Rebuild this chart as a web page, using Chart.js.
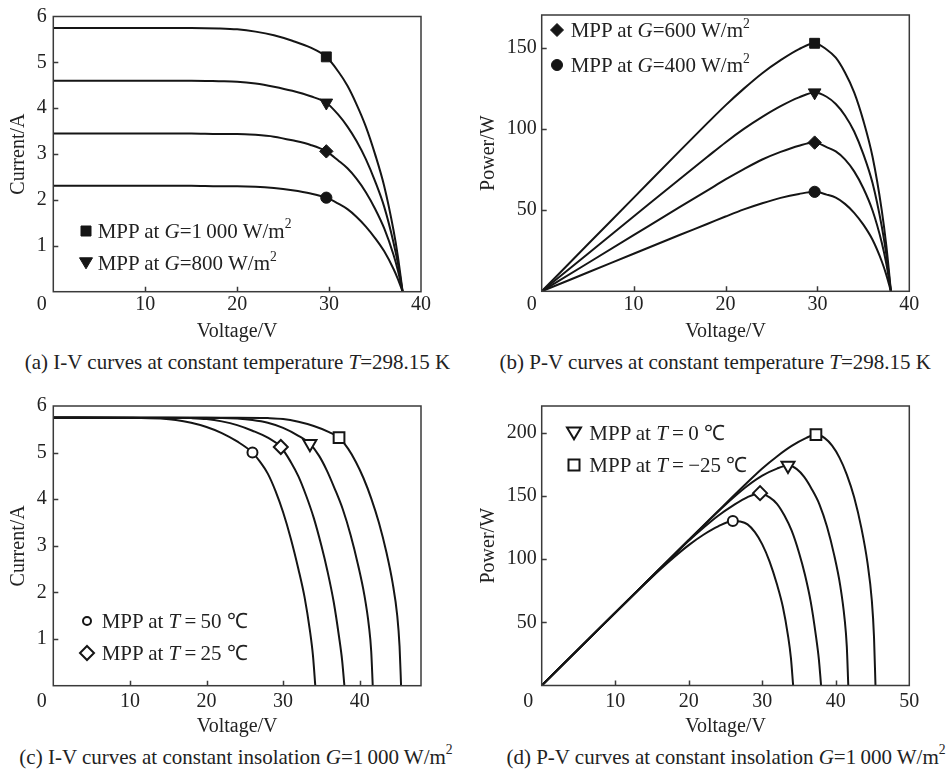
<!DOCTYPE html>
<html><head><meta charset="utf-8">
<script src="https://cdn.jsdelivr.net/npm/chart.js@4.4.1/dist/chart.umd.min.js"></script>
<style>
body{margin:0;background:#fff;width:950px;height:769px;position:relative;overflow:hidden;font-family:"Liberation Serif","Times New Roman",serif;color:#222}
canvas{position:absolute}
.cap{position:absolute;font-size:21px;line-height:24px;white-space:nowrap;transform:translateX(-50%)}
.leg{position:absolute;font-size:21px;line-height:24px;white-space:nowrap}
.mk{position:absolute;overflow:visible}
sup{font-size:0.65em;line-height:0;position:relative;top:-0.1em;vertical-align:super}
</style></head><body>
<canvas id="ca" width="475" height="345" style="left:0;top:0"></canvas>
<canvas id="cb" width="475" height="345" style="left:475px;top:0"></canvas>
<canvas id="cc" width="475" height="360" style="left:0;top:380px"></canvas>
<canvas id="cd" width="475" height="360" style="left:475px;top:380px"></canvas>
<div class="cap" style="left:237.5px;top:349.7px">(a) I-V curves at constant temperature <i>T</i>=298.15 K</div>
<div class="cap" style="left:715.3px;top:349.7px">(b) P-V curves at constant temperature <i>T</i>=298.15 K</div>
<div class="cap" style="left:236px;top:744.7px">(c) I-V curves at constant insolation <i>G</i>=1&#8201;000 W/m<sup>2</sup></div>
<div class="cap" style="left:726px;top:744.7px">(d) P-V curves at constant insolation <i>G</i>=1&#8201;000 W/m<sup>2</sup></div>
<script>
// ---------- data ----------
// (a)/(b) constant temperature, irradiance G = 1000, 800, 600, 400 W/m2
const vAB = [0, 5, 10, 15, 18, 20, 22, 24, 26, 28, 29.7, 31, 32, 33, 34, 35, 36, 37, 37.5, 38];
const iA1000 = [5.75, 5.75, 5.75, 5.75, 5.74, 5.72, 5.67, 5.59, 5.47, 5.32, 5.12, 4.80, 4.49, 4.08, 3.60, 3.00, 2.30, 1.35, 0.75, 0];
const iA800  = [4.60, 4.60, 4.60, 4.60, 4.59, 4.58, 4.54, 4.47, 4.38, 4.26, 4.12, 3.86, 3.60, 3.28, 2.89, 2.41, 1.85, 1.08, 0.60, 0];
const iA600  = [3.45, 3.45, 3.45, 3.45, 3.44, 3.44, 3.42, 3.38, 3.30, 3.20, 3.06, 2.86, 2.69, 2.46, 2.17, 1.81, 1.38, 0.81, 0.45, 0];
const iA400  = [2.31, 2.31, 2.31, 2.31, 2.30, 2.30, 2.29, 2.26, 2.21, 2.14, 2.05, 1.92, 1.80, 1.63, 1.42, 1.17, 0.88, 0.50, 0.27, 0];
const pB1000 = [0, 28.75, 57.5, 86.25, 103.3, 114.4, 124.7, 134.2, 142.2, 149.0, 152.6, 148.8, 143.7, 134.6, 122.4, 105.0, 82.8, 50.0, 28.1, 0];
const pB800  = [0, 23.0, 46.0, 69.0, 82.6, 91.6, 99.9, 107.3, 113.9, 119.3, 122.3, 119.7, 115.2, 108.2, 98.3, 84.4, 66.6, 40.0, 22.5, 0];
const pB600  = [0, 17.25, 34.5, 51.75, 61.9, 68.8, 75.2, 81.1, 85.8, 89.6, 91.5, 88.7, 86.1, 81.2, 73.8, 63.4, 49.7, 30.0, 16.9, 0];
const pB400  = [0, 11.55, 23.1, 34.65, 41.4, 46.0, 50.4, 54.2, 57.5, 59.9, 61.2, 59.5, 57.6, 53.8, 48.3, 41.0, 31.7, 18.5, 10.1, 0];
const mppVA = [29.7, 29.7, 29.7, 29.7];
const mppIA = [5.12, 4.12, 3.06, 2.05];
const mppPB = [152.6, 122.3, 91.5, 61.2];

// (c)/(d) constant insolation, T = 50, 25, 0, -25 C
const vC50  = [0, 10, 14, 16, 18, 20, 22, 24, 26, 27, 28, 29, 30, 31, 32, 32.8, 33.5, 33.9, 34.2];
const iC50  = [5.76, 5.75, 5.73, 5.70, 5.64, 5.55, 5.42, 5.24, 5.00, 4.80, 4.55, 4.18, 3.72, 3.16, 2.50, 1.90, 1.18, 0.64, 0];
const pD50  = [0, 57.5, 80.2, 91.2, 101.5, 111.0, 119.2, 125.8, 130.0, 129.6, 127.4, 121.2, 111.6, 98.0, 80.0, 62.3, 39.5, 21.7, 0];
const vC25  = [0, 15, 18, 20, 22, 24, 26, 28, 29.7, 31, 32, 33, 34, 35, 35.8, 36.6, 37.3, 37.7, 38];
const iC25  = [5.75, 5.75, 5.74, 5.72, 5.67, 5.59, 5.47, 5.32, 5.12, 4.80, 4.49, 4.08, 3.60, 3.00, 2.45, 1.80, 1.05, 0.55, 0];
const pD25  = [0, 86.25, 103.3, 114.4, 124.7, 134.2, 142.2, 149.0, 152.1, 148.8, 143.7, 134.6, 122.4, 105.0, 87.7, 65.9, 39.2, 20.7, 0];
const vC0   = [0, 20, 24, 26, 28, 30, 32, 33.5, 34.7, 35.7, 36.7, 37.8, 38.8, 39.8, 40.6, 41.2, 41.5, 41.7];
const iC0   = [5.75, 5.75, 5.73, 5.70, 5.64, 5.53, 5.36, 5.19, 4.93, 4.62, 4.24, 3.78, 3.24, 2.58, 1.95, 1.28, 0.74, 0];
const pD0   = [0, 115, 137.5, 148.2, 157.9, 165.9, 171.5, 173.9, 171.1, 164.9, 155.6, 142.9, 125.7, 102.7, 79.2, 52.7, 30.7, 0];
const vCm25 = [0, 24, 28, 30, 32, 34, 36, 37.3, 38.5, 39.5, 40.5, 41.5, 42.5, 43.5, 44.3, 44.9, 45.2, 45.4];
const iCm25 = [5.75, 5.75, 5.74, 5.72, 5.66, 5.57, 5.44, 5.32, 5.08, 4.80, 4.45, 4.02, 3.50, 2.85, 2.20, 1.50, 0.85, 0];
const pDm25 = [0, 138, 160.7, 171.6, 181.1, 189.4, 195.8, 198.4, 195.6, 189.6, 180.2, 166.8, 148.8, 124.0, 97.5, 67.4, 38.4, 0];
const mppVC = [26.0, 29.7, 33.5, 37.3];
const mppIC = [5.00, 5.12, 5.19, 5.32];
const mppPD = [130.0, 152.1, 173.9, 198.4];

// axis titles
const xTitle = 'Voltage/V';
const yTitles = ['Current/A', 'Power/W', 'Current/A', 'Power/W'];

// ---------- rendering ----------
Chart.defaults.font.family = '"Liberation Serif","Times New Roman",serif';
Chart.defaults.color = '#222';
const INK = '#151515';
const pts = (xs, ys) => xs.map((x, i) => ({x, y: ys[i]}));

const frame = {
  id: 'frame',
  afterDraw(chart, args, o) {
    const {ctx, chartArea: a, scales: {x, y}} = chart;
    ctx.save();
    ctx.strokeStyle = '#3a3a3a';
    ctx.lineWidth = 1.5;
    ctx.beginPath();
    x.ticks.forEach(t => {
      if (t.value > x.min && t.value < x.max) {
        const px = Math.round(x.getPixelForValue(t.value)) + 0.5;
        ctx.moveTo(px, a.bottom); ctx.lineTo(px, a.bottom - 5);
      }
    });
    y.ticks.forEach(t => {
      if (t.value > y.min && t.value < y.max) {
        const py = Math.round(y.getPixelForValue(t.value)) + 0.5;
        ctx.moveTo(a.left, py); ctx.lineTo(a.left + 5, py);
      }
    });
    ctx.stroke();
    ctx.strokeRect(a.left, a.top, a.right - a.left, a.bottom - a.top);
    ctx.fillStyle = '#222';
    ctx.font = '20px "Liberation Serif"';
    ctx.textAlign = 'center';
    ctx.textBaseline = 'middle';
    ctx.fillText('0', a.left + o.zdx, a.bottom + o.zdy);
    ctx.restore();
  }
};

function make(id, c) {
  const curves = c.curves.map(([xs, ys]) => ({
    data: pts(xs, ys), borderColor: INK, borderWidth: 2, pointRadius: 0,
    cubicInterpolationMode: 'monotone', fill: false, order: 2
  }));
  const mpp = {
    data: pts(c.mppX, c.mppY), showLine: false, order: 0,
    pointStyle: c.style, pointRotation: c.rot, pointRadius: c.rad,
    pointBackgroundColor: c.open ? '#fff' : INK, pointBorderColor: INK,
    pointBorderWidth: c.open ? 2 : 1
  };
  new Chart(document.getElementById(id), {
    type: 'line',
    data: {datasets: [mpp, ...curves]},
    options: {
      responsive: false, animation: false, devicePixelRatio: 1,
      layout: {padding: {left: 0, right: c.pr, top: c.pt, bottom: 0}},
      plugins: {legend: {display: false}, tooltip: {enabled: false}, frame: {zdx: c.zdx, zdy: c.zdy}},
      scales: {
        x: {
          type: 'linear', min: 0, max: c.xmax,
          grid: {display: false, drawTicks: false}, border: {display: false},
          ticks: {stepSize: 10, includeBounds: false, padding: c.xpad, maxRotation: 0,
            font: {size: 20, lineHeight: 1}, callback: v => v === 0 ? '' : v},
          title: {display: true, text: xTitle, font: {size: 20, lineHeight: 1.2}, padding: {top: 0, bottom: 1.3}},
          afterFit: s => { s.height = c.xh; }
        },
        y: {
          type: 'linear', min: 0, max: c.ymax,
          grid: {display: false, drawTicks: false}, border: {display: false},
          ticks: {stepSize: c.ystep, includeBounds: false, padding: c.ypad,
            font: {size: 20, lineHeight: 1}, callback: v => v === 0 ? '' : v},
          title: {display: true, text: c.ytitle, font: {size: 20, lineHeight: 1.2}, padding: {top: c.ytp, bottom: 0}},
          afterFit: s => { s.width = c.yw; }
        }
      }
    },
    plugins: [frame]
  });
}

make('ca', {curves: [[vAB, iA1000], [vAB, iA800], [vAB, iA600], [vAB, iA400]],
  mppX: mppVA, mppY: mppIA, style: ['rect', 'triangle', 'rectRot', 'circle'], rot: [0, 180, 0, 0], rad: [7, 7.3, 6.7, 5.6], open: false,
  pr: 54, pt: 12, xh: 53.3, yw: 53.3, xmax: 40, ymax: 6, ystep: 1, ytitle: yTitles[0], ytp: 6.3, xpad: 3.3, ypad: 6.5, zdx: -11.6, zdy: 13.3});
make('cb', {curves: [[vAB, pB1000], [vAB, pB800], [vAB, pB600], [vAB, pB400]],
  mppX: mppVA, mppY: mppPB, style: ['rect', 'triangle', 'rectRot', 'circle'], rot: [0, 180, 0, 0], rad: [7, 7.3, 6.7, 5.6], open: false,
  pr: 40.7, pt: 12, xh: 53.7, yw: 66.7, xmax: 40, ymax: 170, ystep: 50, ytitle: yTitles[1], ytp: 1.3, xpad: 3.3, ypad: 5, zdx: -10, zdy: 13.7});
make('cc', {curves: [[vC50, iC50], [vC25, iC25], [vC0, iC0], [vCm25, iCm25]],
  mppX: mppVC, mppY: mppIC, style: ['circle', 'rectRot', 'triangle', 'rect'], rot: [0, 0, 180, 0], rad: [5, 7, 7.5, 7.6], open: true,
  pr: 54, pt: 26, xh: 54.3, yw: 53.3, xmax: 48, ymax: 6, ystep: 1, ytitle: yTitles[2], ytp: 6.3, xpad: 6, ypad: 6.5, zdx: -11.6, zdy: 16});
make('cd', {curves: [[vC50, pD50], [vC25, pD25], [vC0, pD0], [vCm25, pDm25]],
  mppX: mppVC, mppY: mppPD, style: ['circle', 'rectRot', 'triangle', 'rect'], rot: [0, 0, 180, 0], rad: [5, 7, 7.5, 7.6], open: true,
  pr: 40.7, pt: 26, xh: 54.5, yw: 66.7, xmax: 50, ymax: 221, ystep: 50, ytitle: yTitles[3], ytp: 1.3, xpad: 6, ypad: 5, zdx: -13.4, zdy: 16});

// ---------- legends (HTML text, SVG markers) ----------
const legendItems = [
  {cx: 86, cy: 230.7, tx: 97.7, shape: 'sq', fill: true, s: 10, html: 'MPP at <i>G</i>=1&#8201;000 W/m<sup>2</sup>'},
  {cx: 86, cy: 263.3, tx: 97.7, shape: 'tri', fill: true, s: 13, html: 'MPP at <i>G</i>=800 W/m<sup>2</sup>'},
  {cx: 557.3, cy: 30, tx: 570.7, shape: 'dia', fill: true, s: 13, html: 'MPP at <i>G</i>=600 W/m<sup>2</sup>'},
  {cx: 557.3, cy: 65, tx: 570.7, shape: 'cir', fill: true, s: 11, html: 'MPP at <i>G</i>=400 W/m<sup>2</sup>'},
  {cx: 86.7, cy: 620.7, tx: 101.7, shape: 'cir', fill: false, s: 10, html: 'MPP at <i>T</i>&#8201;=&#8201;50 ℃'},
  {cx: 86.7, cy: 653.3, tx: 101.7, shape: 'dia', fill: false, s: 14, html: 'MPP at <i>T</i>&#8201;=&#8201;25 ℃'},
  {cx: 574.3, cy: 433.3, tx: 589.3, shape: 'tri', fill: false, s: 14, html: 'MPP at <i>T</i>&#8201;=&#8201;0 ℃'},
  {cx: 574.3, cy: 465, tx: 589.3, shape: 'sq', fill: false, s: 11, html: 'MPP at <i>T</i>&#8201;=&#8201;−25 ℃'}
];
const NS = 'http://www.w3.org/2000/svg';
legendItems.forEach(it => {
  const d = document.createElement('div');
  d.className = 'leg';
  d.style.left = it.tx + 'px';
  d.style.top = (it.cy - 12) + 'px';
  d.innerHTML = it.html;
  document.body.appendChild(d);
  const sz = 20, h = sz / 2, s = it.s / 2;
  const svg = document.createElementNS(NS, 'svg');
  svg.setAttribute('width', sz); svg.setAttribute('height', sz);
  svg.setAttribute('class', 'mk');
  svg.style.left = (it.cx - h) + 'px'; svg.style.top = (it.cy - h) + 'px';
  let el;
  if (it.shape === 'cir') { el = document.createElementNS(NS, 'circle'); el.setAttribute('cx', h); el.setAttribute('cy', h); el.setAttribute('r', it.fill ? s : s - 1); }
  else {
    el = document.createElementNS(NS, 'path');
    let p;
    if (it.shape === 'sq') p = `M${h - s},${h - s}H${h + s}V${h + s}H${h - s}Z`;
    else if (it.shape === 'dia') p = `M${h},${h - s}L${h + s},${h}L${h},${h + s}L${h - s},${h}Z`;
    else p = `M${h - s},${h - s * 0.8}H${h + s}L${h},${h + s * 0.9}Z`;
    el.setAttribute('d', p);
  }
  el.setAttribute('fill', it.fill ? INK : '#fff');
  el.setAttribute('stroke', INK);
  el.setAttribute('stroke-width', it.fill ? 1 : 2);
  svg.appendChild(el);
  document.body.appendChild(svg);
});
</script>
</body></html>
